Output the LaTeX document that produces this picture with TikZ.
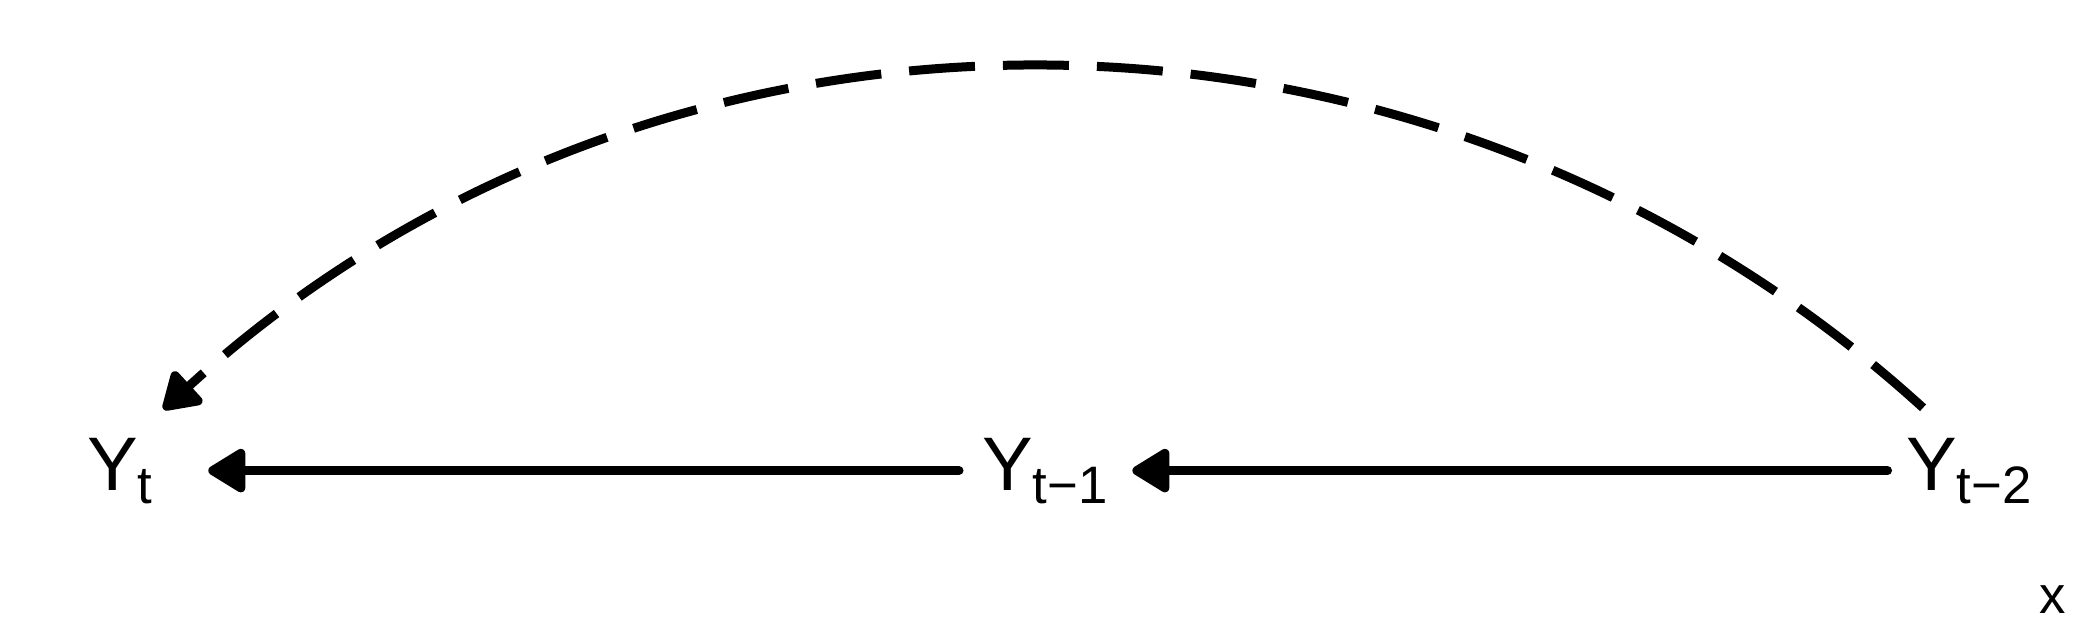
\documentclass[tikz,border=0pt]{standalone}
\usepackage{fontspec}
\setmainfont{Liberation Sans}
\usetikzlibrary{arrows.meta,calc}
\tikzset{
 lab/.style={anchor=base west, inner sep=0pt, outer sep=0pt, font=\fontsize{21.6pt}{26pt}\selectfont},
 arr/.style={line width=0.9mm, line cap=round, -{Triangle[length=4.15mm,width=4.8mm,round]}},
 darr/.style={line width=0.9mm, dash pattern=on 6.6mm off 2.8mm, -{Triangle[length=4.0mm,width=4.8mm,round]}},
}
\newcommand{\subtxt}[1]{\raisebox{-1.3mm}{\fontsize{15pt}{18pt}\selectfont #1}}
\begin{document}
\begin{tikzpicture}[x=0.1mm,y=-0.1mm]
\useasboundingbox (0,0) rectangle (2080,640);
\node[lab] (yt) at (87,490) {Y\subtxt{t}};
\node[lab] (ym1) at (982,490) {Y\subtxt{t−1}};
\node[lab] (ym2) at (1906,490) {Y\subtxt{t−2}};
\node[lab, font=\fontsize{15pt}{18pt}\selectfont] (xl) at (2039,613) {x};
\draw[arr, shorten <=2.3mm, shorten >=5.6mm] (ym1.west) -- (yt.east);
\draw[arr, shorten <=1.85mm, shorten >=2.5mm] (ym2.west) -- (ym1.east);
\draw[darr] ($(ym2.north west)+(17,-30)$) arc[start angle=-47.7, end angle=-132.4, radius=1306];
\end{tikzpicture}
\end{document}
